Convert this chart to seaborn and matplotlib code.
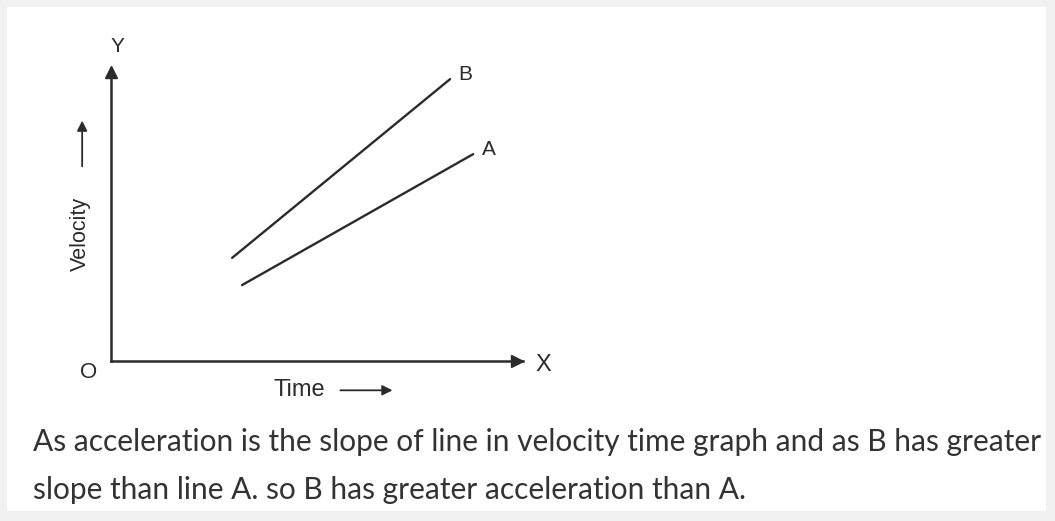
import pandas as pd
import matplotlib.pyplot as plt
import seaborn as sns
from matplotlib.patches import Rectangle

# line end points (time, velocity in arbitrary units)
time_a = [3.18, 8.79]
vel_a = [2.59, 7.06]
time_b = [2.94, 8.23]
vel_b = [3.52, 9.62]
line_names = ["A", "B"]

caption_1 = "As acceleration is the slope of line in velocity time graph and as B has greater"
caption_2 = "slope than line A. so B has greater acceleration than A."

df = pd.concat([
    pd.DataFrame({"time": time_a, "velocity": vel_a, "line": "A"}),
    pd.DataFrame({"time": time_b, "velocity": vel_b, "line": "B"}),
])

sns.set_style("white")
plt.rcParams['font.family'] = ['Liberation Sans', 'DejaVu Sans']

ink = "#2b2b2b"
fig = plt.figure(figsize=(10.55, 5.21), dpi=100, facecolor="#f1f1f1")
fig.patches.append(Rectangle((7 / 1055, 10 / 521), 1039 / 1055, 504 / 521,
                             transform=fig.transFigure, facecolor="white",
                             edgecolor="none", zorder=-10))

ax = fig.add_axes([111 / 1055, (521 - 361) / 521, 412 / 1055, 293 / 521])
ax.patch.set_alpha(0)

sns.lineplot(data=df, x="time", y="velocity", hue="line",
             palette=[ink, ink], linewidth=1.7, legend=False, ax=ax)

ax.set_xlim(0, 10)
ax.set_ylim(0, 10)
ax.set_xticks([])
ax.set_yticks([])
ax.set_xlabel("")
ax.set_ylabel("")
sns.despine(ax=ax)
for side in ["left", "bottom"]:
    ax.spines[side].set_color(ink)
    ax.spines[side].set_linewidth(1.8)

# arrow heads on the axes
ax.plot(0.985, 0, ">", color=ink, markersize=9, transform=ax.transAxes, clip_on=False)
ax.plot(0, 0.985, "^", color=ink, markersize=9, transform=ax.transAxes, clip_on=False)

ax.text(1.05, -0.015, "X", transform=ax.transAxes, fontsize=17, color=ink,
        ha="center", va="center")
ax.text(0.015, 1.075, "Y", transform=ax.transAxes, fontsize=15, color=ink,
        ha="center", va="center")
ax.text(-0.055, -0.04, "O", transform=ax.transAxes, fontsize=16, color=ink,
        ha="center", va="center")

# names at the upper ends of the lines
ends = [(time_a[-1], vel_a[-1]), (time_b[-1], vel_b[-1])]
for name, (tx, vy) in zip(line_names, ends):
    ax.annotate(name, (tx, vy), xytext=(11, 3), textcoords="offset points",
                fontsize=15, color=ink, ha="center", va="center")

# axis names with their little arrows
ax.text(-0.075, 0.435, "Velocity", transform=ax.transAxes, rotation=90,
        fontsize=15.5, color=ink, ha="center", va="center")
ax.annotate("", xy=(-0.07, 0.83), xytext=(-0.07, 0.655), xycoords="axes fraction",
            arrowprops=dict(arrowstyle="-|>", color=ink, lw=1.3, mutation_scale=15))
ax.text(0.458, -0.10, "Time", transform=ax.transAxes, fontsize=17, color=ink,
        ha="center", va="center")
ax.annotate("", xy=(0.69, -0.10), xytext=(0.55, -0.10), xycoords="axes fraction",
            arrowprops=dict(arrowstyle="-|>", color=ink, lw=1.3, mutation_scale=15))

fig.text(33 / 1055, 1 - 442 / 521, caption_1, family="Lato", fontsize=21.5,
         color="#333333", va="center", ha="left")
fig.text(33 / 1055, 1 - 490 / 521, caption_2, family="Lato", fontsize=21.5,
         color="#333333", va="center", ha="left")

fig.savefig("out.png", dpi=100, facecolor=fig.get_facecolor())
